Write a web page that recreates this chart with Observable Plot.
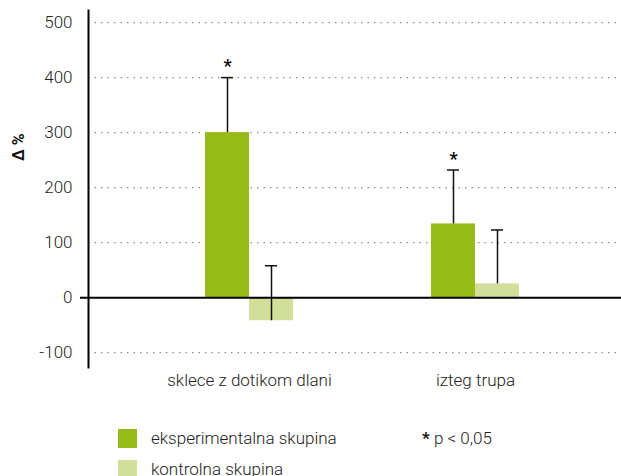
<!DOCTYPE html>
<html><head><meta charset="utf-8">
<script src="https://cdn.jsdelivr.net/npm/d3@7"></script>
<script src="https://cdn.jsdelivr.net/npm/@observablehq/plot@0.6"></script>
<style>
body{margin:0;background:#fff;font-family:Roboto,"Liberation Sans",Arial,sans-serif;}
#wrap{position:relative;width:621px;height:476px;overflow:hidden;background:#fff}
.leg{position:absolute;font-size:17px;line-height:19px;color:#222;font-weight:300;white-space:nowrap}
.sw{position:absolute;width:19px;height:19px}
</style></head><body>
<div id="wrap"><div id="chart"></div></div>
<script>
const categories = ["sklece z dotikom dlani", "izteg trupa"];
const series = ["eksperimentalna skupina", "kontrolna skupina"];
const experimental = [300, 134];
const experimentalSD = [100, 98];
const control = [-42, 25];
const controlSD = [100, 98];
const significance = ["*", "*"];
const yTicks = [-100, 0, 100, 200, 300, 400, 500];
const colors = ["#96bc19", "#d1df9b"];
const note = "p < 0,05";

const exp = categories.map((c, i) => ({cat: c, v: experimental[i], hi: experimental[i] + experimentalSD[i], sig: significance[i]}));
const ctl = categories.map((c, i) => ({cat: c, v: control[i], hi: control[i] + controlSD[i]}));

const ink = "#111";
const chart = Plot.plot({
  width: 621, height: 400,
  marginLeft: 88, marginRight: 0, marginTop: 10, marginBottom: 33,
  style: {fontFamily: 'Roboto,"Liberation Sans",Arial,sans-serif', fontSize: "17px", color: "#222", background: "white", fontWeight: 300},
  x: {domain: categories, range: [204, 519], paddingInner: 0.612, paddingOuter: 0},
  y: {domain: [-127, 522]},
  marks: [
    Plot.gridY(yTicks.filter(d => d !== 0), {stroke: "#888", strokeOpacity: 1, strokeWidth: 1.4, strokeDasharray: "1.4,5.1"}),
    Plot.barY(exp, {x: "cat", y: "v", fill: colors[0], insetLeft: 0, insetRight: 44}),
    Plot.barY(ctl, {x: "cat", y: "v", fill: colors[1], insetLeft: 44, insetRight: 0}),
    Plot.ruleY([0], {stroke: "black", strokeWidth: 2, insetLeft: -8}),
    Plot.frame({anchor: "left", stroke: "black", strokeWidth: 2}),
    Plot.ruleX(exp, {x: "cat", y1: "v", y2: "hi", dx: -22, stroke: ink, strokeWidth: 1.5}),
    Plot.ruleX(ctl, {x: "cat", y1: "v", y2: "hi", dx: 22, stroke: ink, strokeWidth: 1.5}),
    Plot.tickY(exp, {x: "cat", y: "hi", insetLeft: 16, insetRight: 60, stroke: ink, strokeWidth: 1.5}),
    Plot.tickY(ctl, {x: "cat", y: "hi", insetLeft: 60, insetRight: 16, stroke: ink, strokeWidth: 1.5}),
    Plot.text(exp, {x: "cat", y: "hi", text: "sig", dx: -22, dy: -11, fontWeight: "bold", fontSize: 18, fill: ink}),
    Plot.axisY(yTicks, {tickSize: 0, tickPadding: 16, label: null, fontSize: 17, tickFormat: d => String(d)}),
    Plot.axisX({tickSize: 0, tickPadding: 6, label: null, fontSize: 17}),
    Plot.text(["Δ %"], {frameAnchor: "left", dx: -70, dy: -28, rotate: -90, fontWeight: "bold", fontSize: 16, fill: ink})
  ]
});
document.getElementById("chart").appendChild(chart);

const wrap = document.getElementById("wrap");
const legTops = [429, 460];
series.forEach((s, i) => {
  const sw = document.createElement("div");
  sw.className = "sw"; sw.style.left = "118px"; sw.style.top = legTops[i] + "px"; sw.style.background = colors[i];
  wrap.appendChild(sw);
  const t = document.createElement("div");
  t.className = "leg"; t.style.left = "151px"; t.style.top = legTops[i] + "px"; t.textContent = s;
  wrap.appendChild(t);
});
const n = document.createElement("div");
n.className = "leg"; n.style.left = "422px"; n.style.top = "429px";
n.innerHTML = '<b style="font-weight:700;color:#111">' + significance[0] + '</b> ' + note;
wrap.appendChild(n);
</script>
</body></html>
